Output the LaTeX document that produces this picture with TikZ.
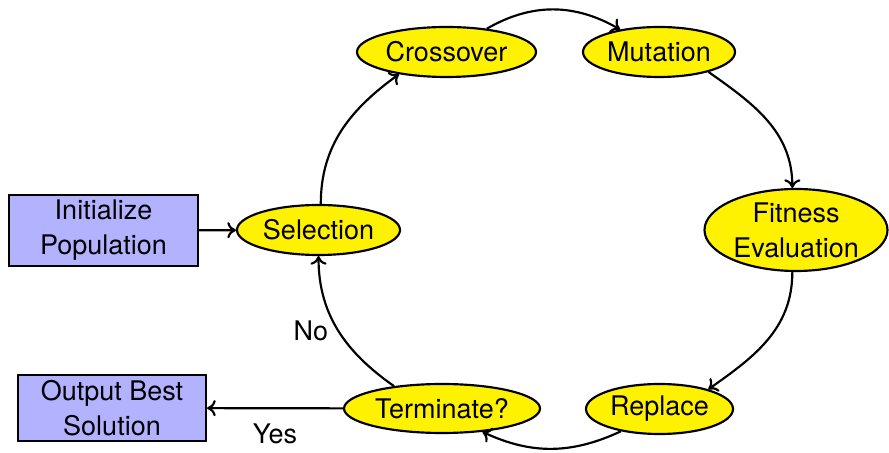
\documentclass[tikz,border=0pt]{standalone}
\usepackage{fontspec}
\setmainfont{TeX Gyre Heros}
\usetikzlibrary{shapes.geometric,arrows.meta}
\def\pu{0.37037pt}
\begin{document}
\begin{tikzpicture}[x=\pu, y=-\pu,
  ell/.style={ellipse, draw, fill=yellow, line width=0.8pt, inner sep=0pt, align=center, font=\fontsize{10}{13}\selectfont},
  boxn/.style={rectangle, draw, fill=blue!30, line width=0.8pt, inner sep=0pt, align=center, font=\fontsize{10}{13}\selectfont},
  arr/.style={-{To[length=3.2pt,width=6pt]}, line width=0.8pt},
  lbl/.style={font=\fontsize{10}{12}\selectfont}]
\useasboundingbox (0,0) rectangle (889,453);
\node[boxn, minimum width=189*\pu, minimum height=71*\pu] (init) at (103.5,230.5) {Initialize\\Population};
\node[ell, minimum width=163*\pu, minimum height=50*\pu] (sel) at (318.5,230) {Selection};
\node[ell, minimum width=179*\pu, minimum height=50*\pu] (cross) at (446.5,52) {Crossover};
\node[ell, minimum width=152*\pu, minimum height=50*\pu] (mut) at (659,52) {Mutation};
\node[ell, minimum width=183*\pu, minimum height=82*\pu] (fit) at (796,230) {Fitness\\Evaluation};
\node[ell, minimum width=147*\pu, minimum height=50*\pu] (rep) at (659.5,409) {Replace};
\node[ell, minimum width=196*\pu, minimum height=49*\pu] (term) at (442,408.5) {Terminate?};
\node[boxn, minimum width=188*\pu, minimum height=66*\pu] (out) at (112,408) {Output Best\\Solution};

\draw[arr] (init) -- (sel);
\draw[arr] (sel.85) to[out=90, in=216] (cross.205);
\draw[arr] (cross.30) to[out=30, in=150] (mut.150);
\draw[arr] (mut.-22) to[out=-35, in=90] (fit.95);
\draw[arr] (fit.-95) to[out=-90, in=35] (rep.22);
\draw[arr] (rep.210) to[out=205, in=-25] (term.-30);
\draw[arr] (term.155) to[out=145, in=-90] node[pos=0.5, left, lbl] {No} (sel.south);
\draw[arr] (term) -- node[below=2pt, lbl] {Yes} (out);
\end{tikzpicture}
\end{document}
